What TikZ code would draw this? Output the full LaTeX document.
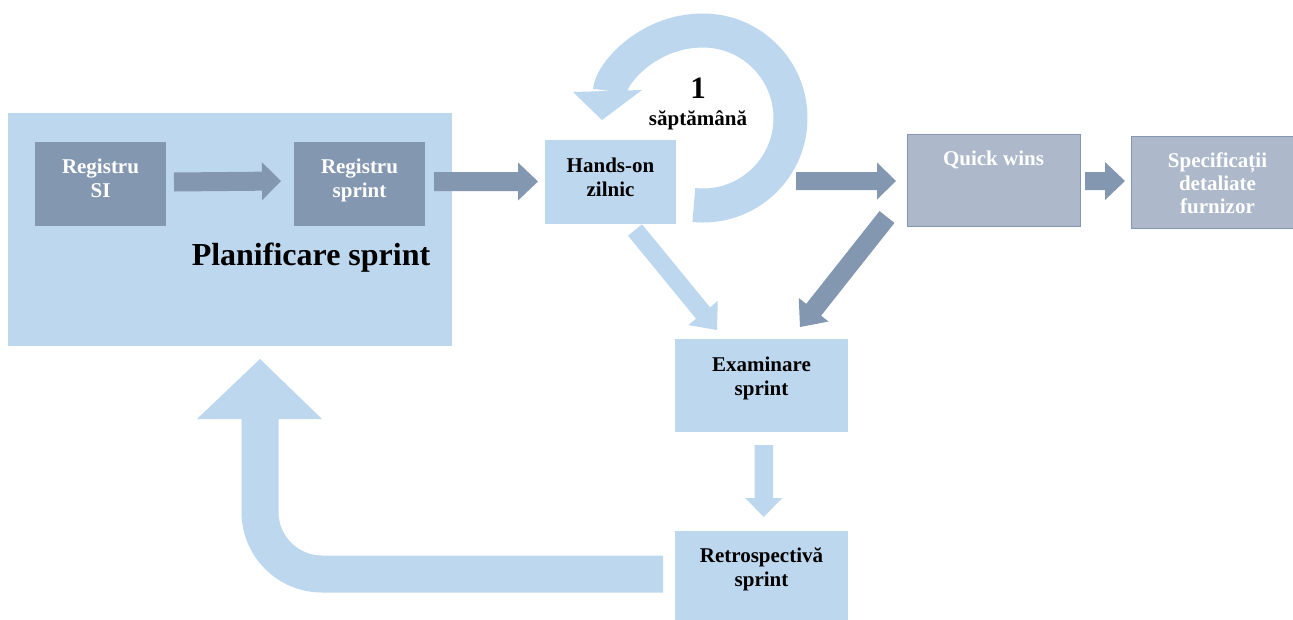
\documentclass[tikz,border=0pt]{standalone}
\usepackage{fontspec}
\setmainfont{Liberation Serif}
\usetikzlibrary{calc}
\definecolor{lb}{HTML}{BDD7EE}
\definecolor{db}{HTML}{8497B0}
\definecolor{gb}{HTML}{ADB9CA}
\newcommand\blockarr[6]{%
  \coordinate (ba-s) at (#1);
  \coordinate (ba-e) at (#2);
  \coordinate (ba-h) at ($(ba-e)!#5!(ba-s)$);
  \fill[#6] ($(ba-s)!0.5*#3!90:(ba-e)$) -- ($(ba-h)!0.5*#3!90:(ba-e)$)
    -- ($(ba-h)!0.5*#4!90:(ba-e)$) -- (ba-e) -- ($(ba-h)!0.5*#4!-90:(ba-e)$)
    -- ($(ba-h)!0.5*#3!-90:(ba-e)$) -- ($(ba-s)!0.5*#3!-90:(ba-e)$) -- cycle;
}
\tikzset{
  box/.style={anchor=north west, inner sep=0pt, outer sep=0pt},
  lightbox/.style={box, fill=lb},
  darkbox/.style={box, fill=db},
  greybox/.style={box, fill=gb, draw=db, line width=0.8pt},
  txt/.style={font=\fontsize{21}{24}\selectfont\bfseries, align=center, inner sep=0pt},
  wtxt/.style={txt, text=white},
}
\begin{document}
\begin{tikzpicture}[x=1pt,y=-1pt]
\clip (0,0) rectangle (1293,619);
\fill[white] (0,0) rectangle (1293,619);
% boxes
\node[lightbox, minimum width=444pt, minimum height=233pt] (plan) at (8,113) {};
\node[darkbox, minimum width=131pt, minimum height=84pt] (rsi) at (35,142) {};
\node[darkbox, minimum width=131pt, minimum height=84pt] (rsp) at (294,142) {};
\node[lightbox, minimum width=131pt, minimum height=84pt] (hands) at (545,140) {};
\node[greybox, minimum width=173pt, minimum height=92pt] (quick) at (907,134) {};
\node[greybox, minimum width=173pt, minimum height=92pt] (spec) at (1131,136) {};
\node[lightbox, minimum width=173pt, minimum height=93pt] (exam) at (675,339) {};
\node[lightbox, minimum width=173pt, minimum height=93pt] (retro) at (675,531) {};
% texts
\node[wtxt] (rsi-t) at (100.5,180.2) {\strut Registru\\SI\strut};
\node[wtxt] (rsp-t) at (359.5,180.2) {\strut Registru\\sprint\strut};
\node[txt] (hands-t) at (610.5,179.2) {\strut Hands-on\\zilnic\strut};
\node[wtxt, anchor=base] (quick-t) at (993.5,165) {Quick wins};
\node[wtxt, font=\fontsize{21}{23}\selectfont\bfseries] (spec-t) at (1217.5,186.1) {\strut Specificații\\detaliate\\furnizor\strut};
\node[txt] (exam-t) at (761.5,378.9) {\strut Examinare\\sprint\strut};
\node[txt] (retro-t) at (761.5,569.9) {\strut Retrospectivă\\sprint\strut};
\node[txt, anchor=base, font=\fontsize{32}{36}\selectfont\bfseries] (plan-t) at (311,265) {Planificare sprint};
% circular arrow
\coordinate (rc) at ($(hands.north east)+(27,-22)$);
\draw[lb, line width=34pt] ($(rc)+(96:87.5)$) arc[start angle=96, end angle=-90, radius=87.5]
  .. controls +(-57,0) and +(0,-15) .. ($(rc)+(-93,-27)$);
\fill[lb] ($(rc)+(-130,-26)$) -- ($(rc)+(-61,-28)$) -- ($(rc)+(-101,2)$) -- cycle;
\node[txt, anchor=base, font=\fontsize{31}{34}\selectfont\bfseries] (one) at (698,98) {1};
\node[txt, anchor=base] (week) at (698,125) {săptămână};
% block arrows
\blockarr{$(rsi.east)+(8,-2)$}{$(rsp.west)+(-13,-3)$}{19pt}{38pt}{19pt}{db}
\blockarr{$(rsp.east)+(9,-2.5)$}{$(hands.west)+(-7,-0.5)$}{19pt}{38pt}{20pt}{db}
\blockarr{$(hands.east)+(120,-1)$}{$(quick.west)+(-11,1)$}{18pt}{37pt}{19pt}{db}
\blockarr{$(quick.east)+(5,1)$}{$(spec.west)+(-6,-1)$}{18pt}{38pt}{20pt}{db}
\blockarr{$(quick.south west)+(-20,-9)$}{$(exam.north)+(38.5,-12)$}{19pt}{38pt}{22pt}{db}
\blockarr{$(hands.south)+(24.5,6)$}{$(exam.north)+(-44.5,-9)$}{18pt}{38pt}{22pt}{lb}
\blockarr{$(exam.south)+(2.25,13)$}{$(retro.north)+(2.25,-14)$}{18.5pt}{37pt}{19pt}{lb}
% return arrow
\draw[lb, line width=37pt] ($(retro.west)+(-12,-3.5)$) -- (322,574) arc[start angle=90, end angle=180, radius=62] -- (260,419);
\fill[lb] (197,419) -- (322,419) -- ($(plan.south west)+(252,13)$) -- cycle;
\end{tikzpicture}
\end{document}
